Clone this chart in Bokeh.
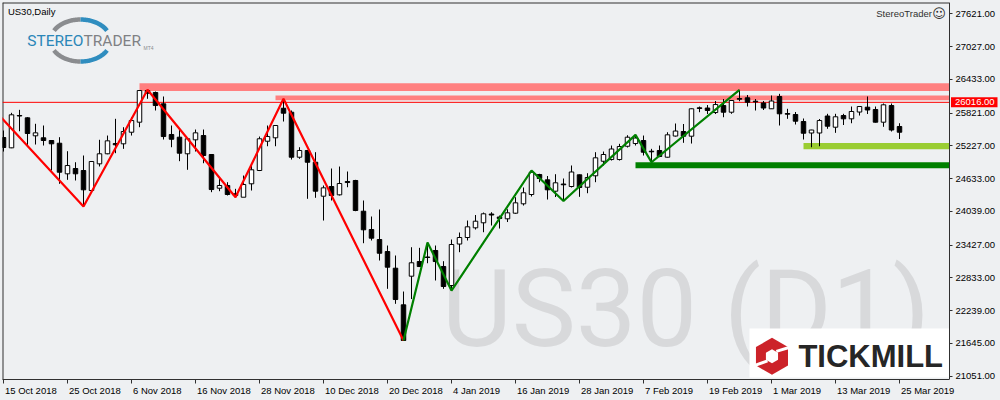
import numpy as np
from bokeh.plotting import figure
from bokeh.models import (ColumnDataSource, FixedTicker, NumeralTickFormatter,
                          Range1d, GlobalInlineStyleSheet)
from bokeh.core.properties import value
from bokeh.embed import file_html
from bokeh.resources import INLINE

BG = "#eef0f2"

# ---------------- data (US30 daily, bar index 0 = 15 Oct 2018) ----------------
opens = [25378, 25191, 25777, 25735, 25409, 25373, 25324, 25275, 24720, 24816,
         24780, 24417, 24901, 25083, 25269, 25264, 25474, 25656, 26230, 26194,
         25989, 25433, 25384, 25083, 25336, 25414, 25070, 24459, 24508, 24358,
         24296, 24539, 24780, 25311, 25373, 25909, 25837, 25021, 25143, 24930,
         24314, 24490, 24339, 24581, 24599, 24042, 23710, 23529, 23311, 23009,
         22345, 22864, 23130, 23212, 23330, 23040, 22695, 23447, 23565, 23741,
         23832, 23991, 23937, 23904, 24006, 24176, 24345, 24707, 24611, 24405,
         24535, 24490, 24702, 24477, 24684, 24948, 24979, 24979, 25220, 25269,
         25324, 25130, 25143, 25021, 25405, 25487, 25402, 25917, 25913, 25831,
         25958, 25837, 26085, 26098, 26036, 26004, 25899, 26122, 25813, 25795,
         25668, 25460, 25460, 25768, 25565, 25777, 25717, 25840, 25928, 25886,
         25656, 25958, 25578]
highs = [25505, 25826, 25880, 25746, 25627, 25596, 25330, 25384, 25130, 24930,
         25052, 24950, 25337, 25414, 25717, 25565, 25746, 26235, 26243, 26212,
         26122, 25596, 25518, 25360, 25523, 25523, 25075, 24629, 24568, 24448,
         24689, 24871, 25396, 25596, 25605, 26080, 25868, 25202, 25150, 25112,
         24508, 24816, 24852, 24762, 24611, 24236, 23946, 24073, 23420, 23239,
         22586, 23389, 23378, 23475, 23420, 23136, 23529, 23656, 23873, 23973,
         24018, 24024, 23964, 24078, 24296, 24472, 24780, 24720, 24680, 24713,
         24635, 24871, 24707, 24731, 25112, 25124, 25233, 25264, 25420, 25427,
         25414, 25173, 25233, 25474, 25632, 25623, 25905, 25940, 25967, 26040,
         26076, 26055, 26243, 26149, 26076, 26040, 26140, 26170, 25899, 25840,
         25723, 25518, 25714, 25808, 25808, 25808, 25940, 25945, 26122, 25940,
         25995, 25995, 25637]
lows = [25124, 25185, 25492, 25233, 25251, 25233, 24780, 24539, 24611, 24599,
        24127, 24410, 24853, 25075, 25094, 25173, 25414, 25565, 26080, 25868,
        25342, 25202, 24949, 24793, 25124, 24912, 24387, 24405, 24327, 24296,
        24300, 24417, 24770, 25220, 25220, 25668, 24979, 24992, 24267, 24285,
        23873, 24236, 24327, 24477, 24042, 23462, 23511, 23148, 22635, 22363,
        21698, 22450, 23030, 23099, 22786, 22635, 22604, 23299, 23511, 23710,
        23661, 23783, 23728, 23846, 23995, 24145, 24309, 24568, 24254, 24299,
        24227, 24472, 24303, 24368, 24568, 24870, 24961, 24961, 25197, 25233,
        25052, 24930, 25021, 25015, 25396, 25282, 25269, 25837, 25804, 25804,
        25746, 25808, 26036, 25940, 25868, 25877, 25895, 25596, 25717, 25614,
        25342, 25202, 25220, 25536, 25463, 25605, 25637, 25777, 25804, 25650,
        25572, 25487, 25351]
closes = [25197, 25790, 25768, 25451, 25463, 25324, 25264, 24749, 24870, 24720,
          24430, 24943, 25083, 25318, 25246, 25487, 25686, 26230, 26181, 25958,
          25396, 25347, 25094, 25355, 25463, 25052, 24435, 24508, 24345, 24327,
          24526, 24793, 25355, 25396, 25596, 25819, 25021, 25143, 24930, 24405,
          24466, 24327, 24544, 24562, 24055, 23705, 23553, 23280, 23027, 22441,
          21698, 23107, 23039, 23203, 23130, 22677, 23438, 23565, 23759, 23861,
          23995, 23973, 23910, 24013, 24194, 24376, 24749, 24635, 24430, 24557,
          24521, 24753, 24472, 24653, 25010, 25070, 25170, 25215, 25384, 25369,
          25112, 25119, 25034, 25427, 25496, 25402, 25899, 25904, 25868, 25976,
          25837, 26049, 26073, 26018, 26025, 25913, 26040, 25808, 25801, 25674,
          25456, 25514, 25686, 25583, 25754, 25717, 25850, 25940, 25877, 25656,
          25971, 25514, 25474]

date_ticks = [0, 8, 16, 24, 32, 40, 48, 56, 64, 72, 80, 88, 96, 104, 112]
date_labels = ["15 Oct 2018", "25 Oct 2018", "6 Nov 2018", "16 Nov 2018",
               "28 Nov 2018", "10 Dec 2018", "20 Dec 2018", "4 Jan 2019",
               "16 Jan 2019", "28 Jan 2019", "7 Feb 2019", "19 Feb 2019",
               "1 Mar 2019", "13 Mar 2019", "25 Mar 2019"]
price_ticks = [27621, 27027, 26433, 25821, 25227, 24633, 24039, 23427,
               22833, 22239, 21645, 21051]

red_zz_bar = [-8, 10, 18, 29, 35, 50]
red_zz_price = [26951, 24127, 26243, 24296, 26080, 21698]
green_zz_bar = [50, 53, 56, 66, 70, 79, 81, 92]
green_zz_price = [21698, 23475, 22604, 24780, 24227, 25427, 24930, 26243]

zone_start = [17, 34, 79, 100]
zone_bottom = [26220, 26052, 24821, 25165]
zone_top = [26360, 26140, 24932, 25277]
zone_color = ["#ff8080", "#ff8080", "#008000", "#9acd32"]

level_price = 26016

# ---------------- geometry ----------------
PX = 8.0                      # pixels per bar
X0 = -0.125                   # left edge of chart (bar units)
X_EDGE = X0 + 947 / PX        # chart's right border (price axis line)
X_END = X0 + 998 / PX         # canvas right edge
Y0, Y1 = 20991, 27826
PPX = (Y1 - Y0) / 377.0       # price per pixel

FONT = "Liberation Sans"
FS = "9.5px"

p = figure(width=1000, height=400, x_range=Range1d(X0, X_END), y_range=Range1d(Y0, Y1),
           y_axis_location="right", output_backend="svg", toolbar_location=None,
           min_border_left=2, min_border_top=2, min_border_right=0, min_border_bottom=21)
p.background_fill_color = BG
p.border_fill_color = BG
p.outline_line_color = None
p.grid.visible = False
p.stylesheets = [GlobalInlineStyleSheet(css="body { background: %s; }" % BG)]

# price axis, drawn at the chart's right border
yax = p.yaxis[0]
yax.fixed_location = X_EDGE
yax.ticker = FixedTicker(ticks=price_ticks, minor_ticks=[])
yax.formatter = NumeralTickFormatter(format="0.00")
yax.major_tick_out = 3
yax.major_tick_in = 0
yax.minor_tick_out = 0
yax.axis_line_color = "#303030"
yax.major_tick_line_color = "#303030"
yax.major_label_standoff = 3
yax.major_label_text_font = FONT
yax.major_label_text_font_size = FS
yax.major_label_text_color = "#000000"

# time axis: minor ticks mark the dates, labels start at the tick (MT4 style)
AW = {ch: 0.556 for ch in "0123456789"}
AW.update({" ": 0.278, "O": 0.778, "c": 0.5, "t": 0.278, "N": 0.722, "o": 0.556,
           "v": 0.5, "D": 0.722, "e": 0.556, "J": 0.5, "a": 0.556, "n": 0.556,
           "F": 0.611, "b": 0.556, "M": 0.833, "r": 0.333})
label_pos = [round(t + (1.5 + 9.5 * sum(AW.get(ch, 0.556) for ch in lab) / 2) / PX, 4)
             for t, lab in zip(date_ticks, date_labels)]
xax = p.xaxis[0]
xax.bounds = (X0, X_EDGE)
xax.ticker = FixedTicker(ticks=label_pos, minor_ticks=date_ticks)
xax.major_label_overrides = {pos: lab for pos, lab in zip(label_pos, date_labels)}
xax.major_tick_out = 0
xax.major_tick_in = 0
xax.minor_tick_out = 4
xax.minor_tick_in = 0
xax.minor_tick_line_color = "#303030"
xax.axis_line_color = "#303030"
xax.major_label_standoff = 1
xax.major_label_text_font = FONT
xax.major_label_text_font_size = FS
xax.major_label_text_color = "#000000"

# chart border (top, left)
p.segment(x0=[X0, X0], y0=[Y1, Y0], x1=[X_EDGE, X0], y1=[Y1, Y1],
          line_color="#303030", line_width=2)

# watermark
p.text(x=[85.3], y=[22278], text=["US30 (D1)"], text_font=value("Roboto"),
       text_font_size="108px", text_color="#d8d9db", text_align="center",
       text_baseline="middle")

# zones
p.quad(left=zone_start, right=[X_EDGE] * len(zone_start), bottom=zone_bottom,
       top=zone_top, fill_color=zone_color, line_color=None)

# level line
p.segment(x0=[X0], y0=[level_price], x1=[X_EDGE], y1=[level_price],
          line_color="#ff0000", line_width=1)

# candles
bars = list(range(len(opens)))
src = ColumnDataSource(dict(
    x=bars, h=highs, l=lows,
    top=[max(o, c) for o, c in zip(opens, closes)],
    bottom=[min(o, c) for o, c in zip(opens, closes)],
    fill=["#ffffff" if c >= o else "#000000" for o, c in zip(opens, closes)],
))
p.segment(x0="x", y0="l", x1="x", y1="h", source=src, line_color="#000000", line_width=1)
p.vbar(x="x", width=0.56, top="top", bottom="bottom", source=src,
       fill_color="fill", line_color="#000000", line_width=1)

# zigzags
p.line(red_zz_bar, red_zz_price, line_color="#ff0000", line_width=2.2)
p.line(green_zz_bar, green_zz_price, line_color="#008000", line_width=2.2)

# ---------------- decorations ----------------
# StereoTrader logo (top-left)
cx, cy, rx, ry = 9.625, 27137, 3.75, 21 * PPX
for a0, a1, col in [(90, 152, "#8a8c8f"), (28, 90, "#2f8dbf"),
                    (208, 270, "#8a8c8f"), (270, 332, "#2f8dbf")]:
    tt = np.radians(np.linspace(a0, a1, 40))
    p.line(cx + rx * np.cos(tt), cy + ry * np.sin(tt), line_color=col, line_width=4.5)
p.text(x=[10.0, 10.0], y=[27119, 27119], text=["STEREO", "TRADER"],
       text_align=["right", "left"], text_baseline="middle",
       text_font=value("Roboto"), text_font_size="15.5px",
       text_color=["#2a86b8", "#7f8184"])
p.text(x=[17.5], y=[27000], text=["MT4"], text_align="left", text_baseline="middle",
       text_font=value(FONT), text_font_size="5px", text_color="#8a8c8f")

# chart captions
p.text(x=[0.55], y=[27663], text=["US30,Daily"], text_align="left",
       text_baseline="middle", text_font=value(FONT), text_font_size=FS,
       text_color="#000000")
p.text(x=[116.05], y=[27635], text=["StereoTrader"], text_align="right",
       text_baseline="middle", text_font=value(FONT), text_font_size=FS,
       text_color="#303030")
p.text(x=[116.95], y=[27635], text=["\u263a"], text_align="center",
       text_baseline="middle", text_font=value("DejaVu Sans"), text_font_size="13px",
       text_color="#303030")

# Tickmill logo (bottom-right)
p.quad(left=[93.25], right=[X_EDGE], bottom=[21027], top=[21915],
       fill_color="#ffffff", line_color=None)
p.scatter(x=[96.06], y=[21411], marker="hex", size=37, angle=np.pi / 6,
          fill_color="#cc2229", line_color=None)
p.scatter(x=[96.06], y=[21411], marker="hex", size=14, angle=np.pi / 6,
          fill_color="#ffffff", line_color=None)
p.segment(x0=[96.6, 95.5], y0=[21500, 21330], x1=[98.6, 93.5], y1=[21590, 21225],
          line_color="#ffffff", line_width=3)
p.text(x=[108.4], y=[21399], text=["TICKMILL"], text_font=value(FONT),
       text_font_style="bold", text_font_size="31px", text_color="#262626",
       text_align="center", text_baseline="middle")

# current price box on the price axis
p.quad(left=[X_EDGE + 1.5 / PX], right=[X_EDGE + 48 / PX],
       bottom=[level_price - 5 * PPX], top=[level_price + 5 * PPX],
       fill_color="#ff0000", line_color=None)
p.text(x=[X_EDGE + 5.5 / PX], y=[level_price], text=["%.2f" % level_price],
       text_align="left", text_baseline="middle", text_font=value(FONT),
       text_font_size=FS, text_color="#ffffff")

open("out.html", "w").write(file_html(p, INLINE))
